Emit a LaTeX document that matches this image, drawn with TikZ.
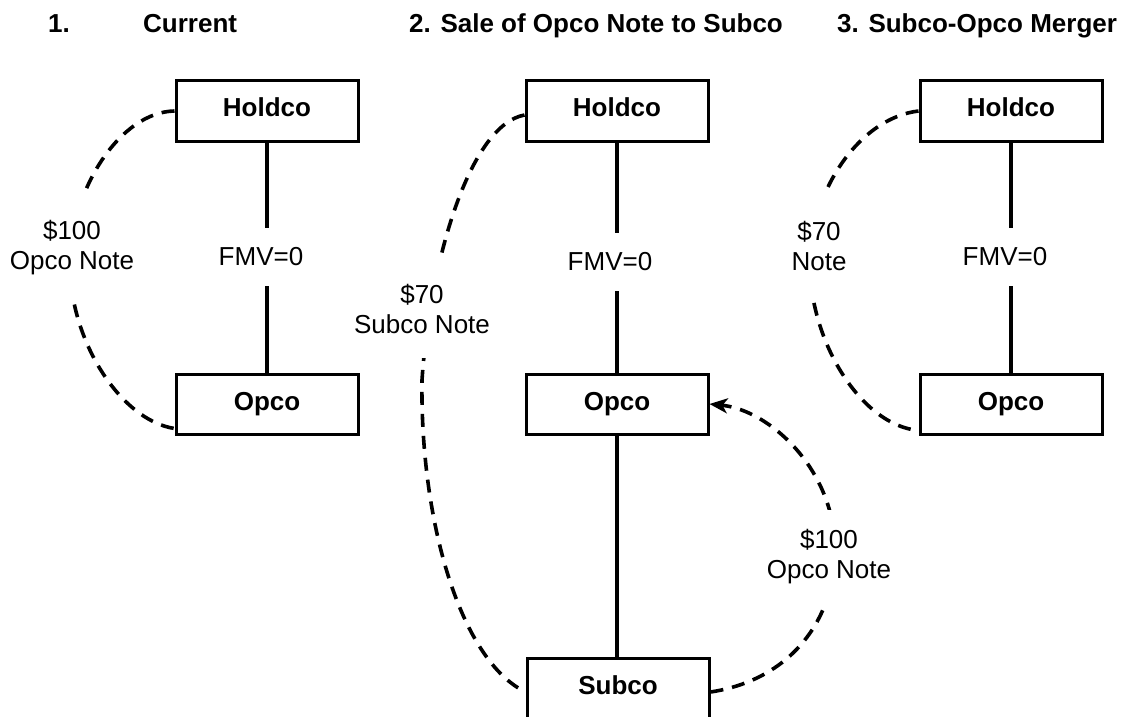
\documentclass[tikz,border=0pt]{standalone}
\usepackage{fontspec}
\setmainfont{Liberation Sans}
\usetikzlibrary{arrows.meta,calc}
\begin{document}
\begin{tikzpicture}[x=1pt,y=-1pt,
  every node/.style={font=\fontsize{26}{30}\selectfont},
  entity/.style={draw, line width=3pt, minimum width=182pt, minimum height=60pt,
    font=\fontsize{26}{30}\selectfont\bfseries, text height=19pt, text depth=7pt, inner sep=0pt},
  title/.style={anchor=base west, font=\fontsize{26}{30}\selectfont\bfseries, inner sep=0pt},
  own/.style={line width=3.8pt},
  note/.style={line width=3.6pt, dash pattern=on 13pt off 9pt},
  lbl/.style={fill=white, align=center, inner xsep=3pt},
  fmv/.style={fill=white, inner xsep=4pt, inner ysep=20pt}
]
\useasboundingbox (0,0) rectangle (1125,717);
\clip (0,0) rectangle (1125,717);

% titles
\node[title] (t1a) at (48,33) {1.};
\node[title] (t1b) at (143,33) {Current};
\node[title] (t2) at (409,33) {2. Sale of Opco Note to Subco};
\node[title] (t3) at (837,33) {3. Subco-Opco Merger};

% panel 1
\node[entity] (H1) at (267,111) {Holdco};
\node[entity] (O1) at (267,404) {Opco};
\draw[own] (H1.south) -- (O1.north);
\draw[note] (H1.west) .. controls (120,112) and (70,190) .. (70,265)
  .. controls (70,340) and (120,420) .. ([yshift=7pt]O1.south west);
\node[lbl, inner ysep=28pt] (L1) at (72,248) {\$100\\Opco Note};
\node[fmv] (F1) at (261,257) {FMV=0};

% panel 2
\node[entity] (H2) at (617,111) {Holdco};
\node[entity] (O2) at (617,404) {Opco};
\node[entity] (S2) at (618,688) {Subco};
\draw[own] (H2.south) -- (O2.north);
\draw[own] (O2.south) -- (O2.south |- S2.north);
\draw[note] ([yshift=-4pt]H2.west) .. controls (470,125) and (430,260) .. (422,380)
  .. controls (420,520) and (460,660) .. ([yshift=-4pt]S2.west);
\draw[note, -{Stealth[length=18pt,width=15pt,inset=5pt]}] ([yshift=-4pt]S2.east)
  .. controls (790,680) and (835,620) .. (835,550)
  .. controls (835,470) and (770,410) .. (O2.east);
\node[lbl, inner ysep=24pt] (L2a) at (422,309) {\$70\\Subco Note};
\node[lbl, inner ysep=20pt] (L2b) at (829,557) {\$100\\Opco Note};
\node[fmv] (F2) at (610,262) {FMV=0};

% panel 3
\node[entity] (H3) at (1011,111) {Holdco};
\node[entity] (O3) at (1011,404) {Opco};
\draw[own] (H3.south) -- (O3.north);
\draw[note] (H3.west) .. controls (860,118) and (810,190) .. (810,265)
  .. controls (810,340) and (860,425) .. ([yshift=5pt]O3.south west);
\node[lbl, inner ysep=27pt] (L3) at (819,246) {\$70\\Note};
\node[fmv] (F3) at (1005,257) {FMV=0};
\end{tikzpicture}
\end{document}
